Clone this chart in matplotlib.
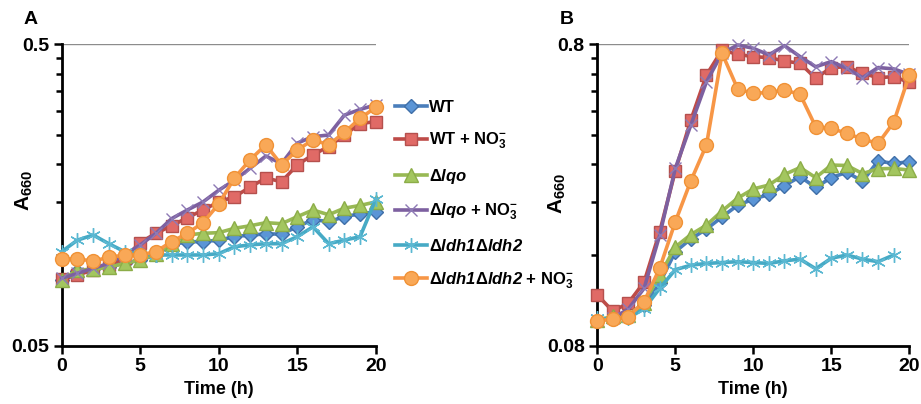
import numpy as np
import matplotlib
matplotlib.use('Agg')
import matplotlib.pyplot as plt
from matplotlib.ticker import FixedLocator, NullFormatter, FixedFormatter

plt.rcParams['font.family'] = ['Liberation Sans', 'DejaVu Sans']
plt.rcParams['font.weight'] = 'bold'
plt.rcParams['mathtext.fontset'] = 'custom'
plt.rcParams['mathtext.rm'] = 'Liberation Sans'
plt.rcParams['mathtext.it'] = 'Liberation Sans:italic'
plt.rcParams['mathtext.bf'] = 'Liberation Sans:bold'
plt.rcParams['mathtext.bfit'] = 'Liberation Sans:bold:italic'

# time points (h)
time_h = list(range(21))

# panel A
a_wt = [0.0826, 0.0882, 0.0896, 0.0915, 0.0938, 0.0962, 0.100, 0.108, 0.1107, 0.1107, 0.112,
        0.115, 0.1165, 0.1174, 0.1174, 0.124, 0.131, 0.129, 0.134, 0.137, 0.139]
a_wt_no3 = [0.083, 0.0858, 0.0892, 0.0926, 0.0975, 0.110, 0.118, 0.125, 0.133, 0.141, 0.150,
            0.156, 0.168, 0.180, 0.175, 0.199, 0.215, 0.229, 0.250, 0.273, 0.277]
a_lqo = [0.0826, 0.0892, 0.0896, 0.091, 0.0938, 0.0962, 0.1007, 0.109, 0.1165, 0.118, 0.1186,
         0.1226, 0.125, 0.128, 0.127, 0.134, 0.141, 0.136, 0.143, 0.146, 0.150]
a_lqo_no3 = [0.0837, 0.0869, 0.0903, 0.0938, 0.100, 0.108, 0.118, 0.132, 0.141, 0.150, 0.164,
             0.177, 0.194, 0.213, 0.201, 0.235, 0.247, 0.250, 0.291, 0.304, 0.315]
a_ldh = [0.1026, 0.112, 0.1165, 0.109, 0.1026, 0.1007, 0.100, 0.100, 0.100, 0.100, 0.101,
         0.1065, 0.108, 0.109, 0.109, 0.115, 0.124, 0.109, 0.112, 0.115, 0.153]
a_ldh_no3 = [0.097, 0.097, 0.0955, 0.0982, 0.100, 0.100, 0.1026, 0.1107, 0.118, 0.128, 0.1476,
             0.180, 0.207, 0.232, 0.199, 0.223, 0.241, 0.232, 0.255, 0.284, 0.309]

# panel B
b_wt = [0.0966, 0.0986, 0.0999, 0.109, 0.129, 0.164, 0.181, 0.195, 0.214, 0.234, 0.245,
        0.254, 0.272, 0.291, 0.268, 0.289, 0.301, 0.281, 0.328, 0.322, 0.326]
b_wt_no3 = [0.118, 0.104, 0.111, 0.130, 0.191, 0.304, 0.449, 0.633, 0.766, 0.741, 0.728,
            0.723, 0.704, 0.692, 0.617, 0.670, 0.674, 0.641, 0.620, 0.625, 0.598]
b_lqo = [0.0974, 0.100, 0.101, 0.111, 0.137, 0.170, 0.187, 0.201, 0.224, 0.247, 0.265,
         0.273, 0.296, 0.312, 0.289, 0.318, 0.317, 0.298, 0.309, 0.310, 0.306]
b_lqo_no3 = [0.0974, 0.0986, 0.106, 0.124, 0.186, 0.310, 0.432, 0.601, 0.747, 0.796, 0.776,
             0.738, 0.792, 0.728, 0.674, 0.701, 0.666, 0.620, 0.670, 0.663, 0.636]
b_ldh = [0.0986, 0.098, 0.099, 0.106, 0.124, 0.143, 0.148, 0.150, 0.151, 0.152, 0.151,
         0.150, 0.153, 0.155, 0.144, 0.156, 0.160, 0.155, 0.152, 0.160, np.nan]
b_ldh_no3 = [0.0966, 0.0981, 0.0999, 0.112, 0.1445, 0.206, 0.282, 0.371, 0.747, 0.569, 0.550,
             0.554, 0.564, 0.546, 0.426, 0.421, 0.405, 0.388, 0.375, 0.441, 0.633]

labels = ['WT',
          r'WT + NO$_\mathbf{3}^\mathbf{-}$',
          r'$\Delta\mathbfit{lqo}$',
          r'$\Delta\mathbfit{lqo}$ + NO$_\mathbf{3}^\mathbf{-}$',
          r'$\Delta\mathbfit{ldh1}\Delta\mathbfit{ldh2}$',
          r'$\Delta\mathbfit{ldh1}\Delta\mathbfit{ldh2}$ + NO$_\mathbf{3}^\mathbf{-}$']

styles = [
    dict(color='#4A7EBB', marker='D', ms=7.5, mfc='#5B95D6', mec='#3F6FA8'),
    dict(color='#BE4B48', marker='s', ms=9, mfc='#E06A66', mec='#B5504D'),
    dict(color='#98B954', marker='^', ms=9.5, mfc='#A3C65F', mec='#8CAD48'),
    dict(color='#7D60A0', marker='x', ms=8.5, mfc='#9A86BE', mec='#8D7AB5', mew=1),
    dict(color='#46AAC5', marker=(6, 2, 0), ms=10.5, mfc='#5BB8D2', mec='#5BB8D2', mew=1),
    dict(color='#F79646', marker='o', ms=10, mfc='#F9A857', mec='#F09236'),
]

fig = plt.figure(figsize=(9.21, 4.04), dpi=100)
ax_a = fig.add_axes([0.067, 0.1443, 0.341, 0.746])
ax_b = fig.add_axes([0.6485, 0.1443, 0.3388, 0.746])


def draw_panel(ax, series, ymin):
    handles = []
    for s, st in zip(series, styles):
        h, = ax.plot(time_h, s, lw=2.6, clip_on=False, zorder=3, **st)
        handles.append(h)
    ax.set_yscale('log')
    ax.set_xlim(0, 20)
    ax.set_ylim(ymin, ymin * 10)
    ax.axhline(ymin * 10, color='#8c8c8c', lw=1, zorder=1)
    ax.yaxis.set_major_locator(FixedLocator([ymin, ymin * 10]))
    ax.yaxis.set_major_formatter(FixedFormatter(['%g' % ymin, '%g' % (ymin * 10)]))
    ax.yaxis.set_minor_locator(FixedLocator([ymin * k for k in range(2, 10)]))
    ax.yaxis.set_minor_formatter(NullFormatter())
    ax.set_xticks([0, 5, 10, 15, 20])
    for side in ['top', 'right']:
        ax.spines[side].set_visible(False)
    for side in ['left', 'bottom']:
        ax.spines[side].set_linewidth(2)
        ax.spines[side].set_color('black')
    ax.tick_params(axis='both', which='major', direction='out', length=6, width=1.8,
                   labelsize=14, pad=3)
    ax.tick_params(axis='y', which='minor', direction='out', length=4, width=1.8)
    ax.set_xlabel('Time (h)', fontsize=13, fontweight='bold', labelpad=4)
    return handles


handles = draw_panel(ax_a, [a_wt, a_wt_no3, a_lqo, a_lqo_no3, a_ldh, a_ldh_no3], 0.05)
draw_panel(ax_b, [b_wt, b_wt_no3, b_lqo, b_lqo_no3, b_ldh, b_ldh_no3], 0.08)

fig.text(24 / 921, 1 - 190 / 404, r'$\mathbf{A_{660}}$', rotation=90, ha='center', va='center',
         fontsize=15)
fig.text(557 / 921, 1 - 193 / 404, r'$\mathbf{A_{660}}$', rotation=90, ha='center', va='center',
         fontsize=15)
fig.text(31 / 921, 1 - 19 / 404, 'A', fontsize=14, fontweight='bold', ha='center', va='center')
fig.text(567 / 921, 1 - 19 / 404, 'B', fontsize=14, fontweight='bold', ha='center', va='center')

fig.legend(handles, labels, loc='upper left', bbox_to_anchor=(395 / 921, 1 - 100 / 404),
           frameon=False, prop=dict(size=12, weight='bold'), handlelength=1.9,
           handletextpad=0.15, labelspacing=0.95, borderpad=0, borderaxespad=0)

fig.savefig('out.png', dpi=100)
